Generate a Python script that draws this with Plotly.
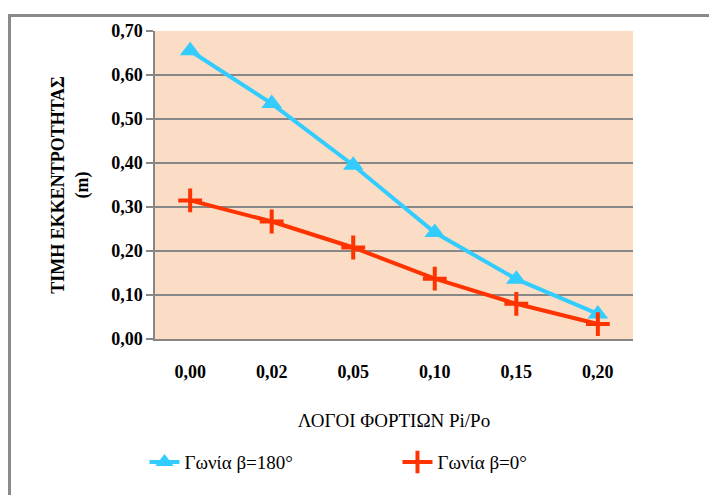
import plotly.graph_objects as go

categories = ["0,00", "0,02", "0,05", "0,10", "0,15", "0,20"]
beta180 = [0.655, 0.535, 0.395, 0.242, 0.136, 0.057]
beta0 = [0.315, 0.267, 0.208, 0.137, 0.080, 0.034]
series_names = ["Γωνία β=180°", "Γωνία β=0°"]
y_ticks = [0.0, 0.1, 0.2, 0.3, 0.4, 0.5, 0.6, 0.7]

BLUE = "#33CCFF"
RED = "#FF3300"
GRID = "#878787"
FONT = "Liberation Serif"

fig = go.Figure()
fig.add_trace(go.Scatter(
    x=categories, y=beta180, name=series_names[0], mode="lines+markers",
    line=dict(color=BLUE, width=4),
    marker=dict(symbol="triangle-up", size=18, color=BLUE),
))
fig.add_trace(go.Scatter(
    x=categories, y=beta0, name=series_names[1], mode="lines+markers",
    line=dict(color=RED, width=4),
    marker=dict(symbol="cross-thin", size=17, color=RED, line=dict(color=RED, width=4)),
))

fig.update_layout(
    width=709, height=495,
    margin=dict(l=155, r=76, t=31, b=156),
    plot_bgcolor="#FBDCC4",
    separators=",.",
    font=dict(family=FONT, size=18, color="black"),
    legend=dict(
        orientation="h", x=-0.022, y=-0.4, xanchor="left", yanchor="middle",
        font=dict(family=FONT, size=19, color="black"),
        entrywidth=208,
    ),
    xaxis=dict(
        type="category",
        showgrid=False, showline=True, linecolor=GRID, linewidth=1.5,
        ticks="outside", ticklen=16, tickcolor="rgba(0,0,0,0)",
        tickfont=dict(family=FONT, size=18, color="black", weight="bold"),
        title=dict(text="ΛΟΓΟΙ ΦΟΡΤΙΩΝ Pi/Po", font=dict(family=FONT, size=19, color="black"), standoff=32),
    ),
    yaxis=dict(
        range=[0, 0.7], tickvals=y_ticks, tickformat=".2f",
        showgrid=True, gridcolor=GRID, gridwidth=1.5,
        showline=True, linecolor=GRID, linewidth=1.5,
        ticks="outside", ticklen=7, tickcolor=GRID, tickwidth=1.5,
        tickfont=dict(family=FONT, size=18, color="black", weight="bold"),
        title=dict(text="ΤΙΜΗ ΕΚΚΕΝΤΡΟΤΗΤΑΣ<br>(m)", font=dict(family=FONT, size=18, color="black", weight="bold"), standoff=18),
        zeroline=False,
    ),
)
# outer chart-area frame: only its top and left edges fall inside the page
fig.add_annotation(
    x=-0.307, y=1.055, xref="paper", yref="paper", xanchor="left", yanchor="top",
    text=" ", showarrow=False, width=760, height=530,
    bordercolor="#8A8A8A", borderwidth=3, borderpad=0,
)

fig.write_html("out.html")
